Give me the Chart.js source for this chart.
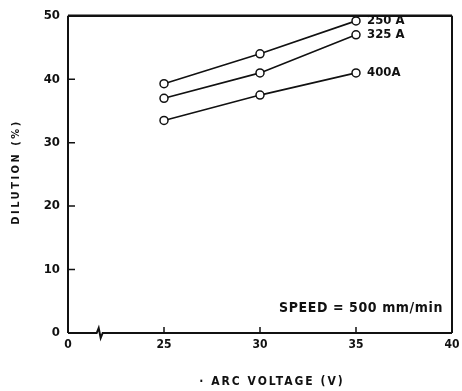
<!DOCTYPE html>
<html><head><meta charset="utf-8">
<script src="https://cdn.jsdelivr.net/npm/chart.js@4/dist/chart.umd.min.js"></script>
<style>html,body{margin:0;padding:0;background:#fff}#wrap{width:462px;height:391px;position:relative}</style>
</head><body><div id="wrap"><canvas id="c" width="462" height="391"></canvas></div>
<script>
const voltages = [25, 30, 35];
const seriesNames = ["250 A", "325 A", "400A"];
const dil250 = [39.3, 44.0, 49.2];
const dil325 = [37.0, 41.0, 47.0];
const dil400 = [33.5, 37.5, 41.0];
const xTicks = [20, 25, 30, 35, 40];
const xTickLabels = ["0", "25", "30", "35", "40"];
const yTicks = [0, 10, 20, 30, 40, 50];
const note = "SPEED = 500 mm/min";
const xTitle = "· ARC VOLTAGE (V)";
const yTitle = "DILUTION (%)";

const FONT = "'DejaVu Sans Condensed', 'DejaVu Sans', sans-serif";
const mk = (vals) => voltages.map((v, i) => ({x: v, y: vals[i]}));
const ds = (name, vals) => ({
  label: name, data: mk(vals), borderColor: '#111', borderWidth: 1.6,
  pointRadius: 4, pointBorderWidth: 1.5, pointBackgroundColor: '#fff', pointBorderColor: '#111',
  fill: false, tension: 0
});

const decor = {
  id: 'decor',
  afterDraw(chart) {
    const ctx = chart.ctx, a = chart.chartArea;
    const xs = chart.scales.x, ys = chart.scales.y;
    ctx.save();
    ctx.strokeStyle = '#111';
    // frame
    ctx.lineWidth = 2;
    ctx.beginPath();
    ctx.moveTo(a.left, a.top); ctx.lineTo(a.left, a.bottom);
    ctx.moveTo(a.right, a.top); ctx.lineTo(a.right, a.bottom);
    ctx.stroke();
    ctx.lineWidth = 2.5;
    ctx.beginPath(); ctx.moveTo(a.left, a.top); ctx.lineTo(a.right, a.top); ctx.stroke();
    // x-axis with break
    const bx = a.left + (xs.getPixelForValue(25) - a.left) * 0.33;
    ctx.lineWidth = 2;
    ctx.beginPath();
    ctx.moveTo(a.left, a.bottom); ctx.lineTo(bx - 3, a.bottom);
    ctx.lineTo(bx - 1, a.bottom - 5); ctx.lineTo(bx + 1, a.bottom + 5); ctx.lineTo(bx + 3, a.bottom);
    ctx.lineTo(a.right, a.bottom);
    ctx.stroke();
    // inward ticks
    ctx.lineWidth = 1.5;
    ctx.beginPath();
    yTicks.forEach(t => { if (t > 0 && t < 50) { const p = ys.getPixelForValue(t); ctx.moveTo(a.left, p); ctx.lineTo(a.left + 7, p); } });
    [25, 30, 35].forEach(t => { const p = xs.getPixelForValue(t); ctx.moveTo(p, a.bottom); ctx.lineTo(p, a.bottom - 6); });
    ctx.stroke();
    // series labels
    ctx.fillStyle = '#111';
    ctx.font = "bold 13px " + FONT;
    ctx.textBaseline = 'middle'; ctx.textAlign = 'left';
    chart.data.datasets.forEach((d, i) => {
      const last = d.data[d.data.length - 1];
      ctx.fillText(seriesNames[i], xs.getPixelForValue(last.x) + 11, ys.getPixelForValue(last.y));
    });
    // note
    ctx.font = "bold 14px " + FONT;
    ctx.letterSpacing = '0.6px';
    ctx.textAlign = 'right'; ctx.textBaseline = 'alphabetic';
    ctx.fillText(note, a.right - 9, a.bottom - 21);
    // axis titles
    ctx.font = "bold 12px " + FONT;
    ctx.letterSpacing = '2px';
    ctx.textAlign = 'center'; ctx.textBaseline = 'middle';
    ctx.fillText(xTitle, 272, 382);
    ctx.translate(16, 172);
    ctx.rotate(-Math.PI / 2);
    ctx.font = "bold 11px " + FONT;
    ctx.letterSpacing = '2.5px';
    ctx.fillText(yTitle, 0, 0);
    ctx.restore();
  }
};

new Chart(document.getElementById('c'), {
  type: 'line',
  data: { datasets: [ds(seriesNames[0], dil250), ds(seriesNames[1], dil325), ds(seriesNames[2], dil400)] },
  options: {
    responsive: false, animation: false, devicePixelRatio: 1,
    layout: { padding: { left: 0, right: 0, top: 14, bottom: 0 } },
    plugins: { legend: { display: false }, tooltip: { enabled: false } },
    scales: {
      x: {
        type: 'linear', min: 20, max: 40,
        afterBuildTicks: s => { s.ticks = xTicks.map(v => ({value: v})); },
        afterFit: s => { s.height = 58; s.paddingRight = 10; s.paddingLeft = 0; },
        grid: { display: false, drawTicks: false },
        border: { display: false },
        ticks: { color: '#111', padding: 5, font: { family: FONT, size: 12, weight: 'bold' },
          callback: (v) => xTickLabels[xTicks.indexOf(v)] },
        title: { display: false }
      },
      y: {
        type: 'linear', min: 0, max: 50,
        afterBuildTicks: s => { s.ticks = yTicks.map(v => ({value: v})); },
        afterFit: s => { s.width = 68; },
        grid: { display: false, drawTicks: false },
        border: { display: false },
        ticks: { color: '#111', padding: 8, font: { family: FONT, size: 13, weight: 'bold' } },
        title: { display: false }
      }
    }
  },
  plugins: [decor]
});
</script></body></html>
